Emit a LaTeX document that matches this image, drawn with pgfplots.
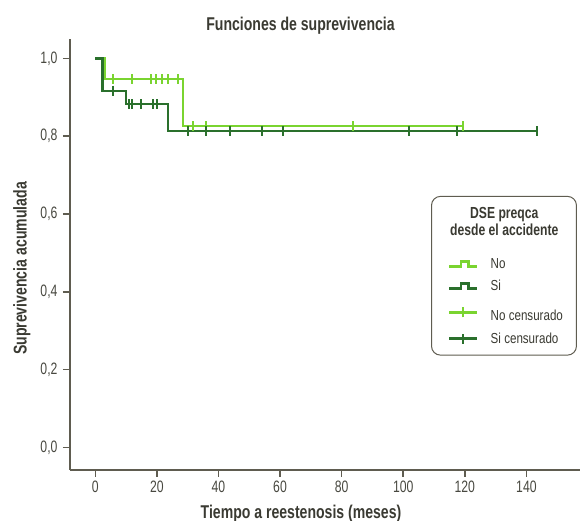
\documentclass[border=0pt]{standalone}
\usepackage{fontspec}
\setmainfont{Liberation Sans}[FakeStretch=0.74]
\newfontfamily\lbf{Liberation Sans}[FakeStretch=0.76]
\newfontfamily\lreg{Liberation Sans}[FakeStretch=0.8]
\usepackage{pgfplots}
\pgfplotsset{compat=1.18}
\definecolor{lgreen}{RGB}{122,212,48}
\definecolor{dgreen}{RGB}{42,112,44}
\definecolor{axcol}{RGB}{95,92,80}
\definecolor{txtcol}{RGB}{72,72,64}
\definecolor{labcol}{RGB}{58,58,50}
\begin{document}
\begin{tikzpicture}
\useasboundingbox (0,0) rectangle (580pt,521pt);
\begin{axis}[
  at={(70pt,51pt)}, anchor=south west,
  scale only axis, width=510pt, height=431pt,
  xmin=-8.2, xmax=157.4, ymin=-0.058, ymax=1.05,
  axis lines*=left,
  axis line style={axcol, line width=1.5pt},
  xtick={0,20,...,140}, ytick={0,0.2,0.4,0.6,0.8,1},
  tick align=outside,
  tick style={axcol, line width=1.5pt},
  major tick length=7pt,
  ticklabel style={font=\fontsize{16.5}{19}\selectfont, text=txtcol},
  /pgf/number format/assume math mode=true,
  yticklabel style={xshift=-2pt, /pgf/number format/.cd, fixed, fixed zerofill, precision=1, use comma},
  xticklabel style={/pgf/number format/.cd, fixed, precision=0},
  title={Funciones de suprevivencia},
  title style={font=\lbf\bfseries\fontsize{18.5}{21}\selectfont, text=labcol, at={(axis description cs:0.452,1.0058)}, anchor=base},
  xlabel={Tiempo a reestenosis (meses)},
  xlabel style={font=\lbf\bfseries\fontsize{18.5}{21}\selectfont, text=labcol, at={(axis description cs:0.453,-0.1114)}, anchor=base},
  ylabel={Suprevivencia acumulada},
  ylabel style={font=\lbf\bfseries\fontsize{18.5}{21}\selectfont, text=labcol, at={(axis description cs:-0.0849,0.4675)}, anchor=base},
  clip=false,
  legend style={at={(0.994,0.636)}, anchor=north east, draw=axcol, line width=1pt, rounded corners=9pt,
    font=\lreg\fontsize{14.5}{17}\selectfont, text=labcol, inner xsep=12pt, inner ysep=9pt,
    row sep=7.5pt, column sep=11pt, nodes={inner sep=1.5pt}},
  legend cell align=left,
]
% step curves
\addplot[const plot, lgreen, line width=2.3pt, forget plot] coordinates {
  (0,1) (3.0,0.947) (28.4,0.826) (119.3,0.826)};
\addplot[const plot, dgreen, line width=2.3pt, forget plot] coordinates {
  (0,1) (2.4,0.917) (10.0,0.882) (23.7,0.813) (143.3,0.813)};
% censored marks
\addplot[only marks, mark=|, mark size=5pt, mark options={lgreen, line width=2pt}, forget plot] coordinates {
  (5.6,0.947) (11.9,0.947) (18.0,0.947) (19.7,0.947) (21.7,0.947) (23.7,0.947) (26.8,0.947)
  (31.7,0.826) (36.0,0.826) (83.6,0.826) (119.3,0.826)};
\addplot[only marks, mark=|, mark size=5pt, mark options={dgreen, line width=2pt}, forget plot] coordinates {
  (5.9,0.917) (10.8,0.882) (11.8,0.882) (14.9,0.882) (18.9,0.882) (20.2,0.882)
  (30.0,0.813) (35.9,0.813) (43.8,0.813) (54.1,0.813) (61.1,0.813) (101.9,0.813) (117.5,0.813) (143.3,0.813)};
% legend
\addlegendimage{empty legend}
\addlegendentry{\hspace*{-40.5pt}\lbf\bfseries\fontsize{16}{17}\selectfont\begin{tabular}{@{}c@{}}DSE preqca\\desde el accidente\rule[-41pt]{0pt}{0pt}\end{tabular}}
\addlegendimage{legend image code/.code={\path (-5pt,0pt); \draw[sharp corners, lgreen, line width=2.4pt] (0pt,-2.5pt) -- (12pt,-2.5pt) -- (12pt,2.5pt) -- (19.5pt,2.5pt) -- (19.5pt,-2.5pt) -- (28pt,-2.5pt);}}
\addlegendentry{No}
\addlegendimage{legend image code/.code={\path (-5pt,0pt); \draw[sharp corners, dgreen, line width=2.4pt] (0pt,-2.5pt) -- (12pt,-2.5pt) -- (12pt,2.5pt) -- (19.5pt,2.5pt) -- (19.5pt,-2.5pt) -- (28pt,-2.5pt);}}
\addlegendentry{Si}
\addlegendimage{legend image code/.code={\path (-5pt,0pt); \draw[sharp corners, lgreen, line width=2.4pt] (0pt,0pt) -- (28pt,0pt); \draw[sharp corners, lgreen, line width=2.2pt] (14pt,-5pt) -- (14pt,5pt);}}
\addlegendentry{\rule{0pt}{18pt}No censurado}
\addlegendimage{legend image code/.code={\path (-5pt,0pt); \draw[sharp corners, dgreen, line width=2.4pt] (0pt,0pt) -- (28pt,0pt); \draw[sharp corners, dgreen, line width=2.2pt] (14pt,-5pt) -- (14pt,5pt);}}
\addlegendentry{Si censurado\rule[-34pt]{0pt}{0pt}}
\end{axis}
\end{tikzpicture}
\end{document}
